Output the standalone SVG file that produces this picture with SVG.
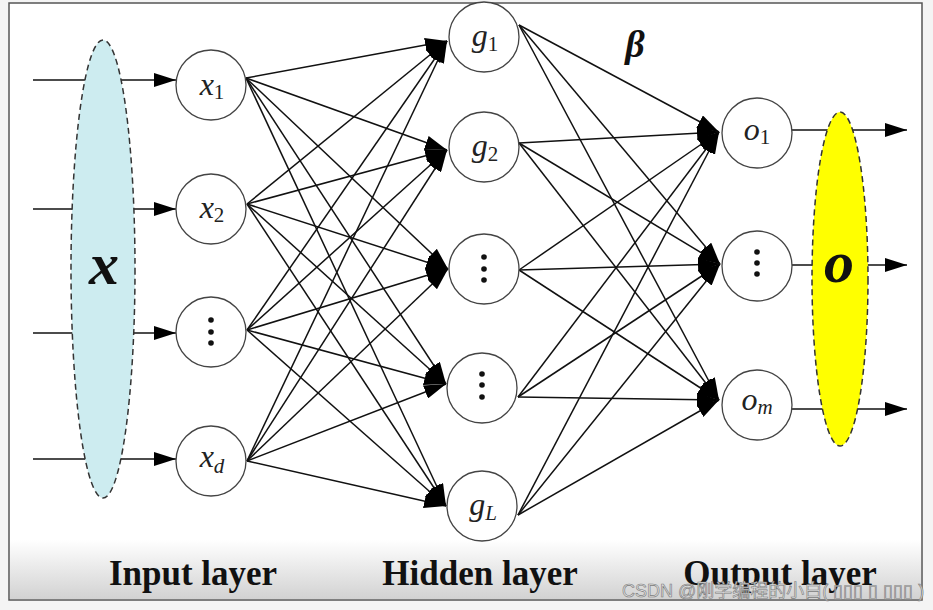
<svg xmlns="http://www.w3.org/2000/svg" width="933" height="610" viewBox="0 0 933 610">
<style>
.node{fill:#fff;stroke:#444;stroke-width:1.3}
.conn line{stroke:#111;stroke-width:1.5}
.lbl{font-family:"Liberation Serif",serif;font-size:32px;fill:#222;text-anchor:middle}
.it{font-style:italic}
.sub{font-size:21px;font-style:normal}
.subi{font-size:21px;font-style:italic}
.layer{font-family:"Liberation Serif",serif;font-size:35px;font-weight:bold;fill:#111;text-anchor:middle}
.big{font-family:"Liberation Serif",serif;font-weight:bold;font-style:italic;fill:#111;text-anchor:middle}
.dot{fill:#111}
</style>
<defs>
<marker id="ah" markerUnits="userSpaceOnUse" markerWidth="22" markerHeight="14" refX="22" refY="7" orient="auto">
<path d="M0,0 L22,7 L0,14 z" fill="#000"/>
</marker>
<linearGradient id="bg" x1="0" y1="0" x2="0" y2="1">
<stop offset="0" stop-color="#fff"/>
<stop offset="1" stop-color="#d2d2d2"/>
</linearGradient>
</defs>
<rect x="0" y="0" width="933" height="610" fill="#f4f4f4"/>
<rect x="9" y="3" width="913" height="597" fill="#fff" stroke="#555" stroke-width="1.5"/>
<rect x="10" y="540" width="911" height="59" fill="url(#bg)"/>

<g id="connectors" class="conn">
<line x1="33" y1="80" x2="176" y2="80" marker-end="url(#ah)"/>
<line x1="33" y1="209" x2="176" y2="209" marker-end="url(#ah)"/>
<line x1="33" y1="333" x2="176" y2="333" marker-end="url(#ah)"/>
<line x1="33" y1="459" x2="176" y2="459" marker-end="url(#ah)"/>
<line x1="246" y1="78" x2="447" y2="41" marker-end="url(#ah)"/>
<line x1="246" y1="78" x2="447" y2="150" marker-end="url(#ah)"/>
<line x1="246" y1="78" x2="448" y2="269" marker-end="url(#ah)"/>
<line x1="246" y1="78" x2="446" y2="384" marker-end="url(#ah)"/>
<line x1="246" y1="78" x2="446" y2="506" marker-end="url(#ah)"/>
<line x1="247" y1="204" x2="447" y2="41" marker-end="url(#ah)"/>
<line x1="247" y1="204" x2="447" y2="150" marker-end="url(#ah)"/>
<line x1="247" y1="204" x2="448" y2="269" marker-end="url(#ah)"/>
<line x1="247" y1="204" x2="446" y2="384" marker-end="url(#ah)"/>
<line x1="247" y1="204" x2="446" y2="506" marker-end="url(#ah)"/>
<line x1="247" y1="330" x2="447" y2="41" marker-end="url(#ah)"/>
<line x1="247" y1="330" x2="447" y2="150" marker-end="url(#ah)"/>
<line x1="247" y1="330" x2="448" y2="269" marker-end="url(#ah)"/>
<line x1="247" y1="330" x2="446" y2="384" marker-end="url(#ah)"/>
<line x1="247" y1="330" x2="446" y2="506" marker-end="url(#ah)"/>
<line x1="247" y1="461" x2="447" y2="41" marker-end="url(#ah)"/>
<line x1="247" y1="461" x2="447" y2="150" marker-end="url(#ah)"/>
<line x1="247" y1="461" x2="448" y2="269" marker-end="url(#ah)"/>
<line x1="247" y1="461" x2="446" y2="384" marker-end="url(#ah)"/>
<line x1="247" y1="461" x2="446" y2="506" marker-end="url(#ah)"/>
<line x1="519" y1="25" x2="719" y2="132" marker-end="url(#ah)"/>
<line x1="519" y1="25" x2="720" y2="264" marker-end="url(#ah)"/>
<line x1="519" y1="25" x2="719" y2="400" marker-end="url(#ah)"/>
<line x1="519" y1="143" x2="719" y2="132" marker-end="url(#ah)"/>
<line x1="519" y1="143" x2="720" y2="264" marker-end="url(#ah)"/>
<line x1="519" y1="143" x2="719" y2="400" marker-end="url(#ah)"/>
<line x1="519" y1="270" x2="719" y2="132" marker-end="url(#ah)"/>
<line x1="519" y1="270" x2="720" y2="264" marker-end="url(#ah)"/>
<line x1="519" y1="270" x2="719" y2="400" marker-end="url(#ah)"/>
<line x1="518" y1="397" x2="719" y2="132" marker-end="url(#ah)"/>
<line x1="518" y1="397" x2="720" y2="264" marker-end="url(#ah)"/>
<line x1="518" y1="397" x2="719" y2="400" marker-end="url(#ah)"/>
<line x1="518" y1="515" x2="719" y2="132" marker-end="url(#ah)"/>
<line x1="518" y1="515" x2="720" y2="264" marker-end="url(#ah)"/>
<line x1="518" y1="515" x2="719" y2="400" marker-end="url(#ah)"/>
<line x1="792" y1="130" x2="907" y2="130" marker-end="url(#ah)"/>
<line x1="792" y1="265" x2="907" y2="265" marker-end="url(#ah)"/>
<line x1="792" y1="409" x2="907" y2="409" marker-end="url(#ah)"/>
</g>

<g id="input-vector">
<ellipse cx="103" cy="269" rx="32" ry="229" fill="#cdecf0" stroke="#333" stroke-width="1.5" stroke-dasharray="6,4"/>
<text class="big" x="104" y="284" font-size="60">x</text>
</g>
<g id="output-vector">
<ellipse cx="840" cy="279" rx="28" ry="167" fill="#ffff00" stroke="#333" stroke-width="1.5" stroke-dasharray="6,4"/>
<text class="big" x="839" y="282" font-size="60">o</text>
</g>

<g id="x1"><circle class="node" cx="211" cy="85" r="35"/><text class="lbl" x="212" y="95"><tspan class="it">x</tspan><tspan class="sub" dy="4">1</tspan></text></g>
<g id="x2"><circle class="node" cx="211" cy="209" r="35"/><text class="lbl" x="212" y="218"><tspan class="it">x</tspan><tspan class="sub" dy="4">2</tspan></text></g>
<g id="xdots"><circle class="node" cx="211" cy="332" r="35"/><circle class="dot" cx="211" cy="320" r="2.8"/><circle class="dot" cx="211" cy="332" r="2.8"/><circle class="dot" cx="211" cy="343" r="2.8"/></g>
<g id="xd"><circle class="node" cx="211" cy="461" r="35"/><text class="lbl" x="212" y="467"><tspan class="it">x</tspan><tspan class="subi" dy="6">d</tspan></text></g>

<g id="g1"><circle class="node" cx="484" cy="37" r="35"/><text class="lbl" x="485" y="46"><tspan class="it">g</tspan><tspan class="sub" dy="5">1</tspan></text></g>
<g id="g2"><circle class="node" cx="484" cy="147" r="35"/><text class="lbl" x="485" y="156"><tspan class="it">g</tspan><tspan class="sub" dy="5">2</tspan></text></g>
<g id="gdots1"><circle class="node" cx="484" cy="269" r="35"/><circle class="dot" cx="484" cy="257" r="2.8"/><circle class="dot" cx="484" cy="269" r="2.8"/><circle class="dot" cx="484" cy="280" r="2.8"/></g>
<g id="gdots2"><circle class="node" cx="482" cy="388" r="35"/><circle class="dot" cx="482" cy="374" r="2.8"/><circle class="dot" cx="482" cy="385" r="2.8"/><circle class="dot" cx="482" cy="397" r="2.8"/></g>
<g id="gL"><circle class="node" cx="482" cy="506" r="35"/><text class="lbl" x="483" y="515"><tspan class="it">g</tspan><tspan class="subi" dy="5">L</tspan></text></g>

<g id="o1"><circle class="node" cx="757" cy="133" r="35"/><text class="lbl" x="757" y="140"><tspan class="it">o</tspan><tspan class="sub" dy="4">1</tspan></text></g>
<g id="odots"><circle class="node" cx="757" cy="266" r="35"/><circle class="dot" cx="757" cy="252" r="2.8"/><circle class="dot" cx="757" cy="263" r="2.8"/><circle class="dot" cx="757" cy="274" r="2.8"/></g>
<g id="om"><circle class="node" cx="757" cy="405" r="35"/><text class="lbl" x="757" y="410"><tspan class="it">o</tspan><tspan class="subi" dy="4">m</tspan></text></g>

<text class="big" x="635" y="57" font-size="38">β</text>

<text class="layer" x="193" y="585">Input layer</text>
<text class="layer" x="480" y="585">Hidden layer</text>
<text class="layer" x="780" y="585">Output layer</text>

<text x="622" y="597" font-family="'Liberation Sans','Noto Sans CJK SC',sans-serif" font-size="18" fill="#e0e0e0" stroke="#7a7a7a" stroke-width="0.6">CSDN @刚学编程的小白( ▯▯▯ ▯ ▯▯▯ )</text>
</svg>
